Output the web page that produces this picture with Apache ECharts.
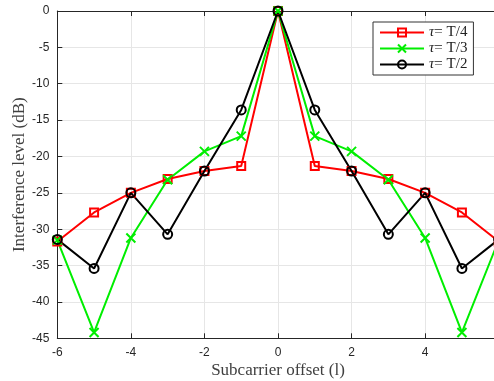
<!DOCTYPE html>
<html><head><meta charset="utf-8">
<script src="https://cdn.jsdelivr.net/npm/echarts@6/dist/echarts.min.js"></script>
<style>html,body{margin:0;padding:0;background:#fff;overflow:hidden}#c{width:494px;height:381px}</style>
</head><body><div id="c"></div>
<script>
const offsets = [-6,-5,-4,-3,-2,-1,0,1,2,3,4,5,6];
const tauT4 = [-31.7,-27.7,-25.0,-23.1,-22.0,-21.3,0,-21.3,-22.0,-23.1,-25.0,-27.7,-31.7];
const tauT3 = [-31.5,-44.2,-31.2,-23.2,-19.3,-17.2,0,-17.2,-19.3,-23.2,-31.2,-44.2,-31.5];
const tauT2 = [-31.4,-35.4,-25.0,-30.7,-22.0,-13.6,0,-13.6,-22.0,-30.7,-25.0,-35.4,-31.4];
const seriesNames = ['T/4','T/3','T/2'];
const xTicks = {min:-6,max:6,interval:2};
const yTicks = {min:-45,max:0,interval:5};

const pair = arr => offsets.map((x,i)=>[x,arr[i]]);
const crossPath = 'path://M0,0L10,10M10,0L0,10';
const mk = (name, data, color, symbol, size) => ({
  name, type:'line', data: pair(data), color,
  symbol, symbolSize:size, showSymbol:true,
  lineStyle:{color, width:2},
  itemStyle:{color:'rgba(0,0,0,0)', borderColor:color, borderWidth:2},
  emphasis:{disabled:true}, animation:false, clip:true
});
const chart = echarts.init(document.getElementById('c'), null, {renderer:'canvas'});
const axisCommon = {
  type:'value',
  axisLine:{show:true, onZero:false, lineStyle:{color:'#262626', width:1}},
  axisTick:{show:true, inside:true, length:5, lineStyle:{color:'#262626'}},
  splitLine:{show:true, lineStyle:{color:'#e6e6e6', width:1}},
  axisLabel:{color:'#262626', fontFamily:'Liberation Sans', fontSize:12},
  nameMoveOverlap:false
};
chart.setOption({
  animation:false,
  grid:{left:57.3, right:-4.7, top:11, bottom:42.7, containLabel:false, outerBoundsMode:'none'},
  xAxis:[
    Object.assign({}, axisCommon, {position:'bottom', min:xTicks.min, max:xTicks.max, interval:xTicks.interval,
      name:'Subcarrier offset (l)', nameLocation:'middle', nameGap:24,
      nameTextStyle:{fontFamily:'Liberation Serif', fontSize:17, color:'#404040'},
      axisLabel:{color:'#262626', fontFamily:'Liberation Sans', fontSize:12, margin:8}}),
    Object.assign({}, axisCommon, {position:'top', min:xTicks.min, max:xTicks.max, interval:xTicks.interval,
      axisLabel:{show:false}, splitLine:{show:false}})
  ],
  yAxis:[
    Object.assign({}, axisCommon, {position:'left', min:yTicks.min, max:yTicks.max, interval:yTicks.interval,
      name:'Interference level (dB)', nameLocation:'middle', nameGap:29,
      nameTextStyle:{fontFamily:'Liberation Serif', fontSize:17, color:'#404040'},
      axisLabel:{color:'#262626', fontFamily:'Liberation Sans', fontSize:12, margin:8}})
  ],
  legend:{
    left:373, top:22, orient:'vertical', itemGap:1,
    itemWidth:44, itemHeight:10,
    backgroundColor:'#fff', borderColor:'#333', borderWidth:1, padding:[3,6,3,6],
    data:seriesNames,
    formatter: n => '{i|τ}{t|= ' + n + '}',
    textStyle:{rich:{
      i:{fontFamily:'Liberation Serif', fontStyle:'italic', fontSize:15, color:'#222', lineHeight:14},
      t:{fontFamily:'Liberation Serif', fontSize:15, color:'#222', lineHeight:14}
    }}
  },
  series:[
    mk('T/4', tauT4, '#ff0000', 'rect', 8),
    mk('T/3', tauT3, '#00ee00', crossPath, 9),
    mk('T/2', tauT2, '#000000', 'circle', 9)
  ]
});
</script></body></html>
